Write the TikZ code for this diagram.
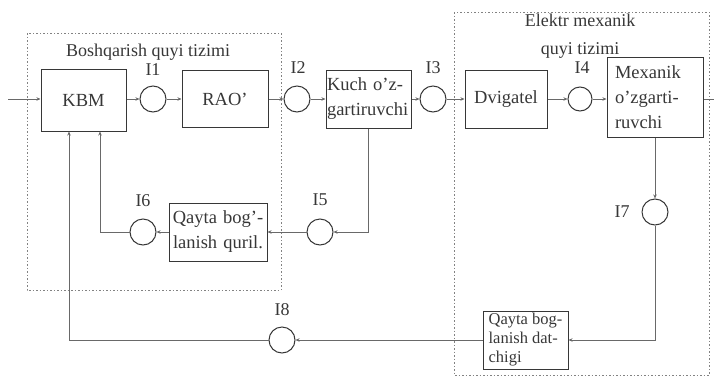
\documentclass[tikz,border=0pt]{standalone}
\usepackage{fontspec}
\setmainfont{Liberation Serif}
\usetikzlibrary{arrows.meta}
\definecolor{ink}{RGB}{55,55,55}
\definecolor{wire}{RGB}{105,105,105}
\definecolor{frm}{RGB}{130,130,130}
\tikzset{
blk/.style={draw=ink, line width=1pt, text=ink, inner sep=1pt, font=\fontsize{18.5}{25}\selectfont},
sum/.style={draw=ink, circle, line width=1pt, minimum size=26pt, inner sep=0pt},
lbl/.style={text=ink, font=\fontsize{18}{20}\selectfont, inner sep=0pt},
conn/.style={draw=wire, line width=0.8pt, -{Stealth[length=4pt,width=3.5pt]}},
wireline/.style={draw=wire, line width=0.8pt},
frame/.style={draw=frm, line width=1pt, dash pattern={on 1.5pt off 2pt}}}

\begin{document}
\begin{tikzpicture}[x=1pt,y=1pt,yscale=-1,xscale=1]
\useasboundingbox (0,0) rectangle (714,378);

%Shape: subsystem frames
\draw [frame] (27,33) rectangle (281,290);
\draw [frame] (454,12) rectangle (709,375);

% Text Node
\node (tboshq) [lbl, font=\fontsize{18}{22}\selectfont] at (148,52) {Boshqarish quyi tizimi};
% Text Node
\node (telektr) [lbl, font=\fontsize{18}{28}\selectfont, align=center] at (580,36) {Elektr mexanik\\quyi tizimi};

%Blocks of the main chain
\node (kbm) [blk, minimum width=85pt, minimum height=62pt] at (83.5,100) {KBM};
\node (c1) [sum] at (153,99) {};
\node (rao) [blk, minimum width=86pt, minimum height=57pt] at (225,99) {RAO'};
\node (c2) [sum] at (297,99) {};
\node (kuch) [blk, text width=83pt, align=left, minimum height=58pt] at (368.5,99) {Kuch o'z-\\gartiruvchi};
\node (c3) [sum] at (433,99) {};
\node (dvig) [blk, minimum width=82pt, minimum height=58pt] at (506,99) {Dvigatel};
\node (c4) [sum, minimum size=24pt] at (580,99) {};
\node (mex) [blk, text width=80pt, inner xsep=8pt, align=left, minimum height=80pt] at (655,97) {Mexanik\\o'zgarti-\\ruvchi};

%Feedback blocks
\node (c7) [sum] at (655,212) {};
\node (dat) [blk, minimum width=85pt, align=left, minimum height=58pt, font=\fontsize{16.5}{19}\selectfont] at (525.5,340) {Qayta bog-\\lanish dat-\\chigi};
\node (c8) [sum] at (282,340) {};
\node (c5) [sum] at (320,232) {};
\node (qur) [blk, text width=96pt, align=center, minimum height=58pt] at (218,232) {Qayta bog'-\\lanish quril.};
\node (c6) [sum] at (143,232) {};

% Text Node
\node (l1) [lbl] at (153,70) {I1};
\node (l2) [lbl] at (298,68) {I2};
\node (l3) [lbl] at (433,68) {I3};
\node (l4) [lbl] at (582,68) {I4};
\node (l5) [lbl] at (320,200) {I5};
\node (l6) [lbl] at (143,201) {I6};
\node (l7) [lbl] at (622,212) {I7};
\node (l8) [lbl] at (282,310) {I8};

%Free ends
\coordinate (in) at (8,99);
\coordinate (out) at (714,99);
\coordinate (fb8) at (69,340);
\coordinate (fb6) at (100,232);

%Straight Lines
\draw [conn] (in) -- (kbm.west |- in);
\draw [conn] (kbm.east |- c1) -- (c1.west);
\draw [conn] (c1.east) -- (rao.west);
\draw [conn] (rao.east) -- (c2.west);
\draw [conn] (c2.east) -- (kuch.west);
\draw [conn] (kuch.east) -- (c3.west);
\draw [conn] (c3.east) -- (dvig.west);
\draw [conn] (dvig.east) -- (c4.west);
\draw [conn] (c4.east) -- (mex.west |- c4);
\draw [wireline] (mex.east |- out) -- (out);
\draw [conn] (mex.south) -- (c7.north);
\draw [conn] (c7.south) |- (dat.east);
\draw [conn] (dat.west) -- (c8.east);
\draw [conn] (c8.west) -- (fb8) -- (fb8 |- kbm.south);
\draw [conn] (kuch.south) |- (c5.east);
\draw [conn] (c5.west) -- (qur.east);
\draw [conn] (qur.west) -- (c6.east);
\draw [conn] (c6.west) -- (fb6) -- (fb6 |- kbm.south);

\end{tikzpicture}
\end{document}
